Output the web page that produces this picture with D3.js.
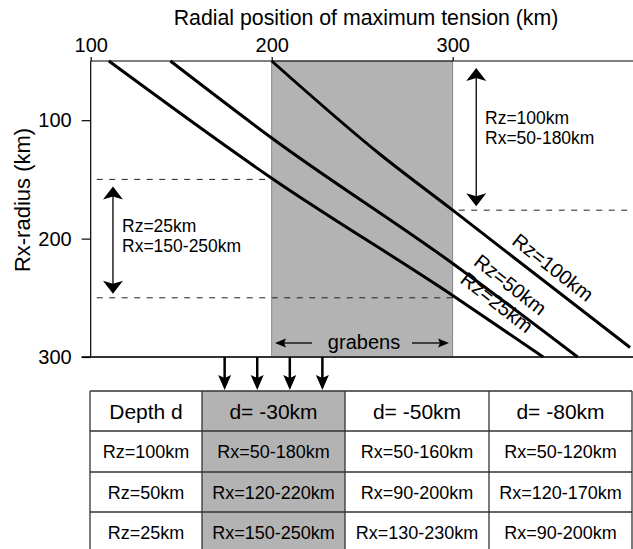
<!DOCTYPE html>
<html>
<head>
<meta charset="utf-8">
<title>Radial position of maximum tension</title>
<style>
  body { margin: 0; background: #fff; }
  svg { display: block; font-family: "Liberation Sans", Arial, Helvetica, sans-serif; }
</style>
</head>
<body>
<script src="https://cdn.jsdelivr.net/npm/d3@7"></script>
<script>
// curves: [radial position of max tension, Rx-radius], one per Rz
var rzNames = ["Rz=100km", "Rz=50km", "Rz=25km"];
var rz100 = [[200, 50], [260, 129], [300, 176], [398, 292]];
var rz50 = [[144, 50], [200, 115], [300, 221], [369, 300]];
var rz25 = [[110, 50], [200, 149], [300, 248], [350, 300]];
var xTicks = [100, 200, 300];
var yTicks = [100, 200, 300];
// shaded graben zone (km)
var grabenZone = [200, 300];
// Rx ranges shown by dashed lines + double arrows
var rangeRz25 = [150, 250];
var rangeRz100 = [50, 176];
var rangeText25 = ["Rz=25km", "Rx=150-250km"];
var rangeText100 = ["Rz=100km", "Rx=50-180km"];
// the four little arrows pointing down to the table
var downArrows = [174, 192, 210, 228];

// table below the plot
var depthHeaders = ["Depth d", "d= -30km", "d= -50km", "d= -80km"];
var rowNames = ["Rz=100km", "Rz=50km", "Rz=25km"];
var rxD30 = ["Rx=50-180km", "Rx=120-220km", "Rx=150-250km"];
var rxD50 = ["Rx=50-160km", "Rx=90-200km", "Rx=130-230km"];
var rxD80 = ["Rx=50-120km", "Rx=120-170km", "Rx=90-200km"];

var W = 633, H = 549;
var gray = "#b3b3b3";

var x = d3.scaleLinear().domain([100, 400]).range([90.7, 633.7]);
var y = d3.scaleLinear().domain([50, 300]).range([61, 357]);

var svg = d3.select("body").append("svg")
    .attr("width", W)
    .attr("height", H);

// graben shading
svg.append("rect")
    .attr("x", x(grabenZone[0]))
    .attr("y", y(50))
    .attr("width", x(grabenZone[1]) - x(grabenZone[0]))
    .attr("height", y(300) - y(50))
    .attr("fill", gray)
    .attr("stroke", "#777")
    .attr("stroke-width", 0.8);

// dashed range lines
var dashes = [
  [100, 200, rangeRz25[0]],
  [100, 300, rangeRz25[1]],
  [300, 400, rangeRz100[1]]
];
svg.selectAll(".dash")
    .data(dashes)
    .enter().append("line")
    .attr("class", "dash")
    .attr("x1", function(d) { return x(d[0]); })
    .attr("x2", function(d) { return x(d[1]); })
    .attr("y1", function(d) { return y(d[2]); })
    .attr("y2", function(d) { return y(d[2]); })
    .attr("stroke", "#222")
    .attr("stroke-width", 1)
    .attr("stroke-dasharray", "6,6.5")
    .attr("stroke-dashoffset", 6.5);

// frame: top, left, bottom
svg.append("line").attr("x1", x(100)).attr("x2", W).attr("y1", y(50)).attr("y2", y(50))
    .attr("stroke", "#000").attr("stroke-width", 1.2);
svg.append("line").attr("x1", x(100)).attr("x2", x(100)).attr("y1", y(50)).attr("y2", y(300))
    .attr("stroke", "#000").attr("stroke-width", 1.2);
svg.append("line").attr("x1", x(100) - 9).attr("x2", W).attr("y1", y(300)).attr("y2", y(300))
    .attr("stroke", "#333").attr("stroke-width", 1.8);

// axes
var topAxis = svg.append("g")
    .attr("transform", "translate(0," + y(50) + ")")
    .call(d3.axisTop(x).tickValues(xTicks).tickSize(4).tickPadding(5).tickSizeOuter(0));
var leftAxis = svg.append("g")
    .attr("transform", "translate(" + x(100) + ",0)")
    .call(d3.axisLeft(y).tickValues(yTicks).tickSize(9).tickPadding(10).tickSizeOuter(0));
[topAxis, leftAxis].forEach(function(g) {
  g.select(".domain").remove();
  g.selectAll("line").attr("stroke", "#000").attr("stroke-width", 1.2);
  g.selectAll("text").attr("font-family", null).style("font-size", "20px").attr("fill", "#000");
});

svg.append("text")
    .attr("x", 366).attr("y", 25)
    .attr("text-anchor", "middle")
    .style("font-size", "21.3px")
    .text("Radial position of maximum tension (km)");

svg.append("text")
    .attr("transform", "translate(30,200) rotate(-90)")
    .attr("text-anchor", "middle")
    .style("font-size", "22px")
    .text("Rx-radius (km)");

// the three curves
var line = d3.line()
    .x(function(d) { return x(d[0]); })
    .y(function(d) { return y(d[1]); })
    .curve(d3.curveMonotoneX);
var curves = [rz100, rz50, rz25];
svg.selectAll(".rz")
    .data(curves)
    .enter().append("path")
    .attr("class", "rz")
    .attr("d", line)
    .attr("fill", "none")
    .attr("stroke", "#000")
    .attr("stroke-width", 3);

// rotated curve labels
var labelAt = [[353, 229], [329.5, 243.5], [322, 258.5]];
svg.selectAll(".rzlab")
    .data(rzNames)
    .enter().append("text")
    .attr("class", "rzlab")
    .attr("text-anchor", "middle")
    .attr("transform", function(d, i) {
      return "translate(" + x(labelAt[i][0]) + "," + y(labelAt[i][1]) + ") rotate(38)";
    })
    .style("font-size", "20px")
    .text(function(d) { return d; });

// double arrows with their text
function vArrow(px, y1, y2) {
  svg.append("line").attr("x1", px).attr("x2", px).attr("y1", y1 + 8).attr("y2", y2 - 8)
      .attr("stroke", "#000").attr("stroke-width", 1.3);
  svg.append("path")
      .attr("d", "M" + px + "," + y1 + "l-10,13l10,-3l10,3z M" + px + "," + y2 + "l-10,-13l10,3l10,-3z")
      .attr("fill", "#000");
}
vArrow(x(112.3), y(rangeRz25[0]) + 7, y(rangeRz25[1]) - 4);
vArrow(x(313), y(rangeRz100[0]) + 7, y(rangeRz100[1]) - 4);

function twoLines(px, py, lines, gap) {
  svg.append("g").selectAll("text")
      .data(lines)
      .enter().append("text")
      .attr("x", px)
      .attr("y", function(d, i) { return py + i * gap; })
      .style("font-size", "17.5px")
      .text(function(d) { return d; });
}
twoLines(122, 232, rangeText25, 20);
twoLines(485, 124, rangeText100, 20);

// grabens label with side arrows
var gy = 343;
svg.append("text")
    .attr("x", 364).attr("y", 349)
    .attr("text-anchor", "middle")
    .style("font-size", "20px")
    .text("grabens");
svg.append("line").attr("x1", 284).attr("x2", 312).attr("y1", gy).attr("y2", gy)
    .attr("stroke", "#000").attr("stroke-width", 1.3);
svg.append("line").attr("x1", 412).attr("x2", 440).attr("y1", gy).attr("y2", gy)
    .attr("stroke", "#000").attr("stroke-width", 1.3);
svg.append("path")
    .attr("d", "M275," + gy + "l11,-4.5l-2,4.5l2,4.5z M449," + gy + "l-11,-4.5l2,4.5l-2,4.5z")
    .attr("fill", "#000");

// arrows pointing down to the table
var tableTop = 391;
svg.selectAll(".down")
    .data(downArrows)
    .enter().append("g")
    .attr("class", "down")
    .each(function(d) {
      var g = d3.select(this), px = x(d);
      g.append("line").attr("x1", px).attr("x2", px).attr("y1", y(300)).attr("y2", tableTop - 10)
          .attr("stroke", "#000").attr("stroke-width", 2.5);
      g.append("path")
          .attr("d", "M" + px + "," + (tableTop - 1) + "l-6.5,-15l6.5,3l6.5,-3z")
          .attr("fill", "#000");
    });

// table
var colEdges = [90, 202, 345, 489, 632];
var rowEdges = [tableTop, 431, 472, 512, 553];
var tableRows = [depthHeaders];
rowNames.forEach(function(r, i) { tableRows.push([r, rxD30[i], rxD50[i], rxD80[i]]); });

svg.append("rect")
    .attr("x", colEdges[1]).attr("y", tableTop)
    .attr("width", colEdges[2] - colEdges[1]).attr("height", H - tableTop)
    .attr("fill", gray);

svg.selectAll(".hrule")
    .data(rowEdges.slice(0, 4))
    .enter().append("line")
    .attr("class", "hrule")
    .attr("x1", colEdges[0]).attr("x2", colEdges[4])
    .attr("y1", function(d) { return d; }).attr("y2", function(d) { return d; })
    .attr("stroke", "#333").attr("stroke-width", 1.3);
svg.selectAll(".vrule")
    .data(colEdges)
    .enter().append("line")
    .attr("class", "vrule")
    .attr("x1", function(d) { return d; }).attr("x2", function(d) { return d; })
    .attr("y1", tableTop).attr("y2", H)
    .attr("stroke", "#333").attr("stroke-width", 1.3);

tableRows.forEach(function(row, r) {
  var cy = (rowEdges[r] + rowEdges[r + 1]) / 2;
  svg.append("g").selectAll("text")
      .data(row)
      .enter().append("text")
      .attr("x", function(d, c) { return (colEdges[c] + colEdges[c + 1]) / 2; })
      .attr("y", cy + (r === 0 ? 7.5 : 6.5))
      .attr("text-anchor", "middle")
      .style("font-size", r === 0 ? "21px" : "18px")
      .text(function(d) { return d; });
});
</script>
</body>
</html>
